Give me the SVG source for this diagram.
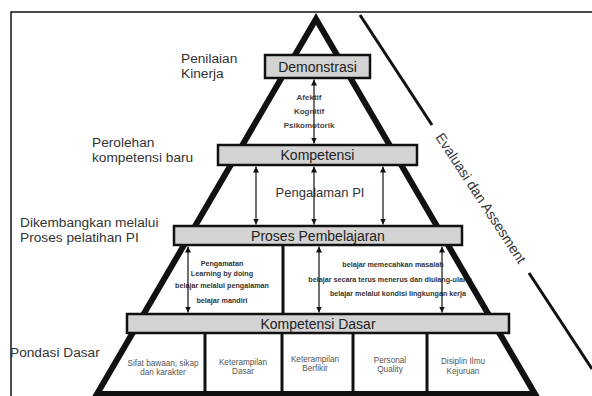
<svg xmlns="http://www.w3.org/2000/svg" width="592" height="396" viewBox="0 0 592 396">
<style>
text{font-family:"Liberation Sans",Arial,sans-serif}
.box{fill:#d3d3d3;stroke:#111;stroke-width:2.5}
.bt{font-size:14px;fill:#222;text-anchor:middle}
.lab{font-size:13.7px;fill:#333}
.sm{font-size:7.2px;font-weight:bold;fill:#333;text-anchor:middle}
.af{font-size:8px;font-weight:bold;fill:#444;text-anchor:middle}
.cell{font-size:8.2px;fill:#555;text-anchor:middle}
.arr{stroke:#111;stroke-width:1.2;fill:none;marker-start:url(#ah);marker-end:url(#ah)}
.div{stroke:#111;stroke-width:3}
</style>
<defs>
<marker id="ah" viewBox="0 0 10 10" refX="10" refY="5" markerWidth="6" markerHeight="6" orient="auto-start-reverse" markerUnits="userSpaceOnUse">
<path d="M0,0 L10,5 L0,10 z" fill="#111"/>
</marker>
</defs>
<rect width="592" height="396" fill="#fff"/>
<g id="frame">
<path d="M11,396 L11,12 L592,12" fill="none" stroke="#111" stroke-width="1.5"/>
</g>
<g id="eval">
<line x1="360" y1="15" x2="432" y2="125" stroke="#111" stroke-width="3"/>
<line x1="529" y1="273" x2="592" y2="369" stroke="#111" stroke-width="3"/>
<text transform="translate(481,198) rotate(56.7)" x="0" y="5" font-size="14" fill="#333" text-anchor="middle">Evaluasi dan Assesment</text>
</g>
<g id="labels">
<text class="lab" x="181" y="63">Penilaian</text>
<text class="lab" x="181" y="78">Kinerja</text>
<text class="lab" x="92" y="147">Perolehan</text>
<text class="lab" x="92" y="162">kompetensi baru</text>
<text class="lab" x="20" y="227">Dikembangkan melalui</text>
<text class="lab" x="20" y="242">Proses pelatihan PI</text>
<text class="lab" x="10" y="357">Pondasi Dasar</text>
</g>
<g id="texts">
<text class="af" x="309" y="100">Afektif</text>
<text class="af" x="309" y="114">Kognitif</text>
<text class="af" x="309" y="128">Psikomotorik</text>
<text x="320" y="197" font-size="13" fill="#333" text-anchor="middle">Pengalaman PI</text>
<text class="sm" x="222" y="265.5">Pengamatan</text>
<text class="sm" x="222" y="275.5">Learning by doing</text>
<text class="sm" x="222" y="287.5">belajar melalui pengalaman</text>
<text class="sm" x="222" y="302.5">belajar mandiri</text>
<text class="sm" x="393" y="267">belajar memecahkan masalah</text>
<text class="sm" x="390" y="282">belajar secara terus menerus dan diulang-ulang</text>
<text class="sm" x="398" y="296">belajar melalui kondisi lingkungan kerja</text>
</g>
<g id="pyramid">
<polygon points="316,19 535,394 97,394" fill="none" stroke="#111" stroke-width="6" stroke-linejoin="miter"/>
</g>
<g id="dividers">
<line class="div" x1="283" y1="245" x2="283" y2="314"/>
<line class="div" x1="205" y1="333" x2="205" y2="393"/>
<line class="div" x1="282" y1="333" x2="282" y2="393"/>
<line class="div" x1="353" y1="333" x2="353" y2="393"/>
<line class="div" x1="427" y1="333" x2="427" y2="393"/>
</g>
<g id="connectors">
<line class="arr" x1="314" y1="79.5" x2="314" y2="143.5"/>
<line class="arr" x1="256" y1="166.5" x2="256" y2="224.5"/>
<line class="arr" x1="314" y1="166.5" x2="314" y2="224.5"/>
<line class="arr" x1="383" y1="166.5" x2="383" y2="224.5"/>
<line class="arr" x1="188" y1="246.5" x2="188" y2="312.5"/>
<line class="arr" x1="319" y1="246.5" x2="319" y2="312.5"/>
<line class="arr" x1="442" y1="246.5" x2="442" y2="312.5"/>
</g>
<g id="demonstrasi">
<rect class="box" x="265" y="55" width="105" height="23"/>
<text class="bt" x="317.5" y="71.5">Demonstrasi</text>
</g>
<g id="kompetensi">
<rect class="box" x="218" y="145" width="199" height="20"/>
<text class="bt" x="317.5" y="160">Kompetensi</text>
</g>
<g id="proses">
<rect class="box" x="174" y="226" width="288" height="19"/>
<text class="bt" x="318" y="240.5">Proses Pembelajaran</text>
</g>
<g id="kompetensi-dasar">
<rect class="box" x="127" y="314" width="382" height="19"/>
<text class="bt" x="318" y="328.5">Kompetensi Dasar</text>
</g>
<g id="cell1">
<text class="cell" x="163" y="366">Sifat bawaan, sikap</text>
<text class="cell" x="163" y="375">dan karakter</text>
</g>
<g id="cell2">
<text class="cell" x="243" y="365">Keterampilan</text>
<text class="cell" x="243" y="374">Dasar</text>
</g>
<g id="cell3">
<text class="cell" x="315" y="362">Keterampilan</text>
<text class="cell" x="315" y="371">Berfikir</text>
</g>
<g id="cell4">
<text class="cell" x="390" y="363">Personal</text>
<text class="cell" x="390" y="372">Quality</text>
</g>
<g id="cell5">
<text class="cell" x="463" y="364">Disiplin Ilmu</text>
<text class="cell" x="463" y="374">Kejuruan</text>
</g>
</svg>
